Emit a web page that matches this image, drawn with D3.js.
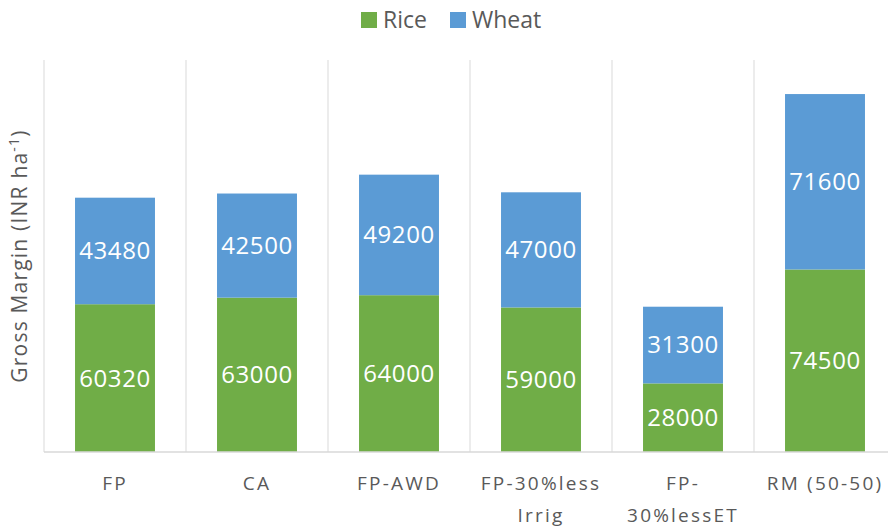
<!DOCTYPE html>
<html>
<head>
<meta charset="utf-8">
<script src="https://cdn.jsdelivr.net/npm/d3@7"></script>
<style>
body { margin: 0; background: #fff; }
text { font-family: "Open Sans", "Noto Sans", sans-serif; }
</style>
</head>
<body>
<svg id="chart" width="888" height="528"></svg>
<script>
const categories = ['FP', 'CA', 'FP-AWD', 'FP-30%less Irrig', 'FP-30%lessET', 'RM (50-50)']
const tickLines = [['FP'], ['CA'], ['FP-AWD'], ['FP-30%less', 'Irrig'], ['FP-', '30%lessET'], ['RM (50-50)']]
const rice = [60320, 63000, 64000, 59000, 28000, 74500]
const wheat = [43480, 42500, 49200, 47000, 31300, 71600]
const seriesNames = ['Rice', 'Wheat']
const colors = ['#70AD47', '#5B9BD5']

var svg = d3.select('#chart')
var margin = {left: 44, right: -8, top: 60, bottom: 76}
var W = 888 - margin.left - margin.right, H = 528 - margin.top - margin.bottom

var rows = categories.map((c, i) => ({cat: c, Rice: rice[i], Wheat: wheat[i]}))
var stack = d3.stack().keys(seriesNames)(rows)

var x = d3.scaleBand().domain(categories).range([0, W]).paddingInner(0.437).paddingOuter(0.2185)
var y = d3.scaleLinear().domain([0, 160000]).range([H, 0])

var g = svg.append('g').attr('transform', `translate(${margin.left},${margin.top})`)

// category separators
d3.range(categories.length + 1).forEach(i => {
	g.append('line')
		.attr('x1', i * W / categories.length).attr('x2', i * W / categories.length)
		.attr('y1', 0).attr('y2', H)
		.attr('stroke', '#d9d9d9').attr('stroke-width', 1)
})

stack.forEach((s, si) => {
	var layer = g.append('g')
	layer.selectAll('rect').data(s).join('rect')
		.attr('x', d => x(d.data.cat))
		.attr('width', x.bandwidth())
		.attr('y', d => y(d[1]))
		.attr('height', d => y(d[0]) - y(d[1]))
		.attr('fill', colors[si])
	layer.selectAll('text').data(s).join('text')
		.attr('x', d => x(d.data.cat) + x.bandwidth() / 2)
		.attr('y', d => (y(d[0]) + y(d[1])) / 2)
		.attr('dy', '0.35em')
		.attr('text-anchor', 'middle')
		.attr('fill', '#fff')
		.attr('font-size', 24)
		.attr('letter-spacing', 0.6)
		.text(d => d.data[seriesNames[si]])
})

// x axis line
g.append('line').attr('x1', 0).attr('x2', W).attr('y1', H).attr('y2', H)
	.attr('stroke', '#d9d9d9').attr('stroke-width', 1.5)

// tick labels
categories.forEach((c, i) => {
	var t = g.append('text')
		.attr('x', x(c) + x.bandwidth() / 2)
		.attr('y', H + 38)
		.attr('text-anchor', 'middle')
		.attr('fill', '#595959')
		.attr('font-size', 19)
		.attr('letter-spacing', 2.2)
	tickLines[i].forEach((l, j) => {
		t.append('tspan').attr('x', x(c) + x.bandwidth() / 2).attr('dy', j ? 32 : 0).text(l)
	})
})

// y title
var yt = svg.append('text')
	.attr('transform', `translate(27,${margin.top + H / 2}) rotate(-90)`)
	.attr('text-anchor', 'middle')
	.attr('fill', '#595959')
	.attr('font-size', 21)
	.attr('letter-spacing', 1.2)
yt.append('tspan').text('Gross Margin (INR ha')
yt.append('tspan').attr('font-size', 14).attr('dy', -8).text('-1')
yt.append('tspan').attr('dy', 8).text(')')

// legend
var legend = svg.append('g')
var lx = [361, 450]
seriesNames.forEach((n, i) => {
	legend.append('rect').attr('x', lx[i]).attr('y', 12).attr('width', 16).attr('height', 16).attr('fill', colors[i])
	legend.append('text').attr('x', lx[i] + 22).attr('y', 20).attr('dy', '0.35em')
		.attr('fill', '#595959').attr('font-size', 23).text(n)
})
</script>
</body>
</html>
